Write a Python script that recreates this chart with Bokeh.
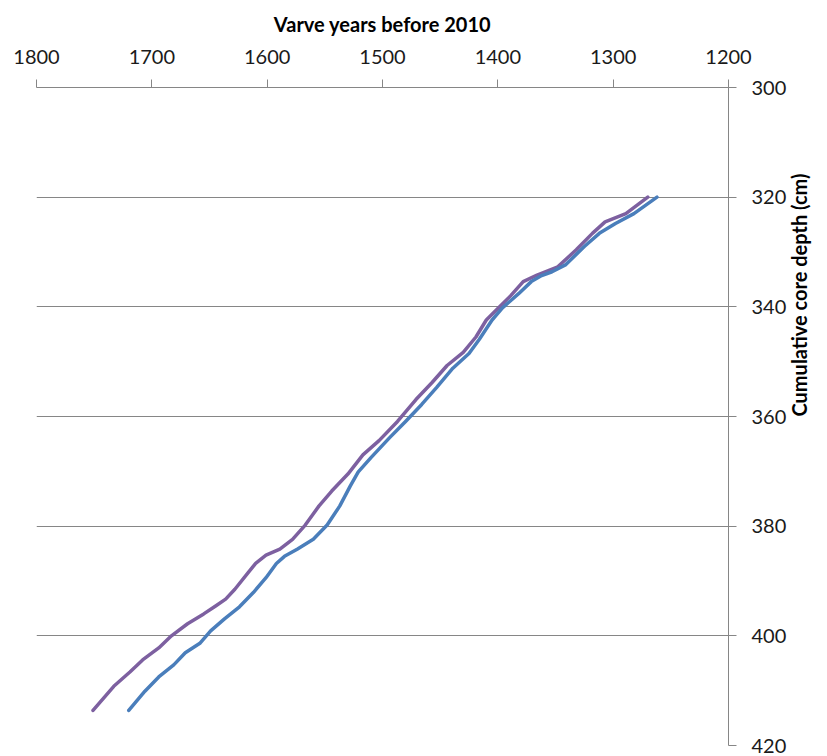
import math
from bokeh.plotting import figure
from bokeh.models import Range1d, FixedTicker
from bokeh.embed import file_html
from bokeh.resources import INLINE

# Data
blue_years = [1262, 1282, 1298, 1312, 1325, 1341, 1353, 1362, 1371, 1382, 1396, 1405, 1416, 1425,
              1439, 1453, 1466, 1480, 1494, 1510, 1521, 1528, 1537, 1548, 1560, 1574, 1585, 1592,
              1601, 1612, 1624, 1637, 1649, 1658, 1671, 1681, 1694, 1706, 1720]
blue_depth = [320.0, 323.0, 324.8, 326.6, 329.0, 332.3, 333.6, 334.3, 335.4, 337.6, 340.2, 342.4, 345.9, 348.5,
              351.2, 354.7, 357.8, 360.9, 363.9, 367.5, 370.1, 372.7, 376.3, 379.8, 382.4, 384.2, 385.5, 386.8,
              389.4, 392.1, 394.7, 396.9, 399.1, 401.3, 403.1, 405.3, 407.5, 410.1, 413.6]

purple_years = [1270, 1289, 1307, 1318, 1332, 1348, 1366, 1378, 1389, 1400, 1410, 1419, 1430, 1444,
                1457, 1471, 1487, 1503, 1517, 1530, 1544, 1555, 1567, 1578, 1589, 1601, 1610, 1617,
                1628, 1636, 1645, 1655, 1669, 1683, 1694, 1708, 1719, 1733, 1751]
purple_depth = [320.0, 323.0, 324.5, 326.6, 329.6, 332.7, 334.2, 335.4, 338.0, 340.3, 342.4, 345.5, 348.3, 350.7,
                353.8, 356.9, 360.9, 364.4, 367.0, 370.5, 373.6, 376.3, 379.8, 382.4, 384.2, 385.3, 386.8, 388.6,
                391.5, 393.3, 394.6, 396.0, 397.8, 400.0, 402.2, 404.4, 406.6, 409.2, 413.6]

x_ticks = [1800, 1700, 1600, 1500, 1400, 1300, 1200]
y_ticks = [300, 320, 340, 360, 380, 400, 420]

FONT = "Lato"
GRAY = "#868686"

p = figure(width=827, height=756,
           x_range=Range1d(1800, 1200), y_range=Range1d(420, 300),
           x_axis_location="above", y_axis_location="right",
           output_backend="svg", toolbar_location=None,
           min_border_left=36, min_border_right=99, min_border_top=87, min_border_bottom=11)

p.outline_line_color = None
p.xgrid.visible = False
p.ygrid.grid_line_color = GRAY
p.ygrid.grid_line_width = 1
p.ygrid.ticker = FixedTicker(ticks=y_ticks)

for ax, ticks in ((p.xaxis[0], x_ticks), (p.yaxis[0], y_ticks)):
    ax.ticker = FixedTicker(ticks=ticks)
    ax.axis_line_color = GRAY
    ax.major_tick_line_color = GRAY
    ax.minor_tick_line_color = None
    ax.major_tick_in = 0
    ax.major_tick_out = 8
    ax.major_label_text_font = FONT
    ax.major_label_text_font_size = "20px"
    ax.major_label_text_color = "#1a1a1a"
    ax.axis_label_text_font = FONT
    ax.axis_label_text_font_size = "20px"
    ax.axis_label_text_font_style = "bold"
    ax.axis_label_text_color = "#000000"

p.xaxis[0].axis_label = "Varve years before 2010"
p.xaxis[0].major_label_standoff = 16
p.xaxis[0].axis_label_standoff = 11
p.yaxis[0].axis_label = "Cumulative core depth (cm)"
p.yaxis[0].major_label_standoff = 15
p.yaxis[0].axis_label_standoff = 10
try:
    p.yaxis[0].axis_label_orientation = math.pi / 2
except Exception:
    pass

p.line(purple_years, purple_depth, line_color="#7D60A0", line_width=3.5,
       line_join="round", line_cap="round")
p.line(blue_years, blue_depth, line_color="#4A7EBB", line_width=3.5,
       line_join="round", line_cap="round")

open("out.html", "w").write(file_html(p, INLINE))
